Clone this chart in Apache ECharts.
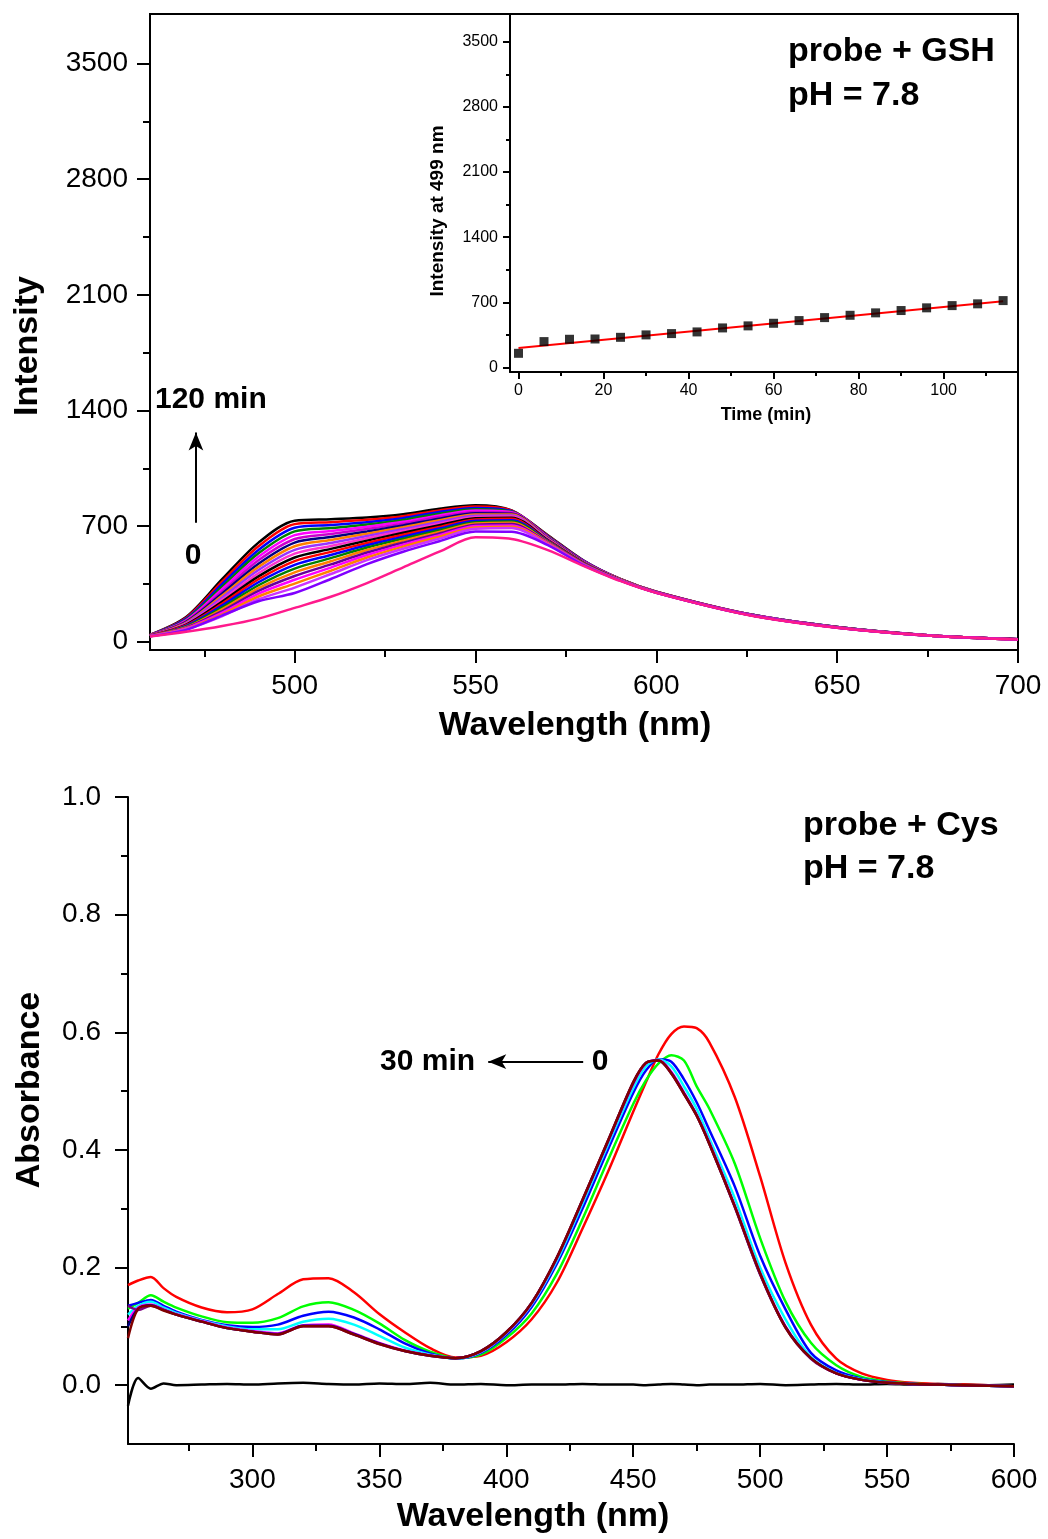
<!DOCTYPE html>
<html>
<head>
<meta charset="UTF-8">
<title>probe + GSH / probe + Cys</title>
<script src="https://cdn.jsdelivr.net/npm/echarts@6/dist/echarts.min.js"></script>
<style>
  html, body { margin: 0; padding: 0; background: #fff; }
  #chart { width: 1048px; height: 1539px; }
</style>
</head>
<body>
<div id="chart"></div>
<script>
// ---- fluorescence spectra (top panel), one curve per time point ----
const flWave = [460, 470, 480, 490, 500, 510, 520, 530, 540, 550, 560, 570, 580, 590, 600, 625, 650, 675, 700];
const flTimes = [120, 114, 108, 102, 96, 90, 84, 78, 72, 66, 60, 54, 48, 42, 36, 30, 24, 18, 12, 6, 0];
const flColors = ['#000000', '#ff0000', '#0000ff', '#008000', '#ff00ff', '#cc00cc', '#000080', '#ff8000', '#9933ff', '#ff33cc',
                  '#000000', '#ff0000', '#0000ff', '#008000', '#ff8000', '#660099', '#ff00ff', '#ff8000', '#cc33ff', '#8000ff', '#ff1a8c'];
const flIntensity = [
  [42, 150, 380, 600, 733, 742, 752, 772, 805, 826, 795, 645, 490, 380, 303, 170, 90, 40, 15],
  [41, 145, 365, 578, 712, 724, 738, 760, 795, 818, 793, 642, 489, 380, 303, 170, 89, 40, 15],
  [40, 140, 350, 556, 690, 706, 724, 748, 785, 810, 790, 639, 488, 379, 302, 169, 89, 40, 15],
  [40, 135, 335, 535, 668, 688, 710, 737, 775, 802, 787, 636, 486, 379, 302, 169, 89, 39, 15],
  [39, 130, 320, 514, 645, 670, 696, 726, 765, 794, 784, 633, 485, 378, 302, 169, 88, 39, 15],
  [39, 125, 305, 493, 622, 652, 682, 715, 755, 786, 780, 630, 483, 378, 301, 168, 88, 39, 15],
  [38, 120, 292, 472, 600, 634, 668, 704, 745, 778, 775, 627, 482, 377, 301, 168, 88, 39, 15],
  [38, 116, 280, 453, 578, 616, 654, 693, 735, 771, 770, 624, 480, 377, 301, 168, 88, 39, 15],
  [37, 112, 268, 434, 556, 598, 640, 682, 725, 763, 764, 621, 479, 376, 300, 168, 87, 39, 15],
  [37, 108, 255, 415, 533, 580, 626, 671, 715, 755, 758, 618, 477, 376, 300, 167, 87, 39, 15],
  [36, 104, 243, 396, 510, 562, 612, 660, 705, 748, 751, 615, 476, 375, 300, 167, 87, 38, 15],
  [36, 100, 231, 378, 488, 544, 598, 648, 695, 740, 744, 612, 474, 375, 299, 167, 87, 38, 14],
  [35, 96, 220, 360, 465, 525, 584, 636, 685, 732, 736, 609, 473, 374, 299, 167, 86, 38, 14],
  [35, 92, 208, 342, 443, 506, 570, 624, 675, 724, 728, 606, 471, 374, 299, 166, 86, 38, 14],
  [35, 88, 197, 325, 420, 487, 555, 612, 665, 716, 720, 603, 470, 373, 298, 166, 86, 38, 14],
  [34, 85, 186, 308, 398, 468, 540, 600, 655, 708, 712, 600, 468, 373, 298, 166, 86, 38, 14],
  [34, 82, 176, 291, 375, 449, 525, 588, 645, 700, 704, 597, 467, 372, 298, 166, 86, 38, 14],
  [34, 79, 166, 274, 352, 430, 510, 576, 635, 692, 696, 594, 465, 372, 297, 165, 85, 38, 14],
  [33, 76, 156, 257, 328, 410, 494, 563, 624, 684, 688, 590, 464, 371, 297, 165, 85, 38, 14],
  [33, 72, 160, 245, 295, 380, 470, 545, 608, 668, 666, 585, 462, 370, 297, 165, 85, 38, 14],
  [32, 60, 95, 140, 205, 272, 355, 450, 545, 632, 622, 555, 458, 368, 296, 164, 85, 38, 14]
];

// ---- inset: intensity at 499 nm vs time ----
const insetTime = [0, 6, 12, 18, 24, 30, 36, 42, 48, 54, 60, 66, 72, 78, 84, 90, 96, 102, 108, 114];
const insetIntensity = [151, 277, 302, 305, 323, 349, 363, 381, 424, 446, 474, 503, 535, 560, 586, 611, 640, 664, 683, 718];
const fitTime = [0, 114];
const fitIntensity = [209, 711];

// ---- absorbance spectra (bottom panel) ----
const absWave = [251, 255, 260, 265, 270, 280, 290, 300, 310, 320, 330, 340, 350, 360, 370, 380, 390, 400, 410, 420,
                 430, 440, 450, 455, 460, 465, 470, 475, 480, 490, 500, 510, 520, 530, 540, 550, 560, 570, 580, 590, 600];
const absNames = ['blank', '0 min', 'a', 'b', 'c', 'd', 'e', 'f', '30 min'];
const absColors = ['#000000', '#ff0000', '#00ff00', '#0000ff', '#00ffff', '#ff00ff', '#000080', '#800080', '#800000'];
const absValues = [
  [-0.035, 0.012, -0.006, 0.003, 0.000, 0.001, 0.002, 0.001, 0.003, 0.004, 0.002, 0.001, 0.003, 0.002, 0.004, 0.001, 0.002, 0.000, 0.001, 0.001,
   0.002, 0.001, 0.001, 0.000, 0.001, 0.002, 0.001, 0.000, 0.001, 0.001, 0.002, 0.000, 0.001, 0.002, 0.001, 0.002, 0.001, 0.002, 0.001, 0.000, 0.001],
  [0.170, 0.178, 0.184, 0.165, 0.150, 0.132, 0.124, 0.129, 0.155, 0.180, 0.182, 0.158, 0.121, 0.090, 0.063, 0.047, 0.050, 0.073, 0.112, 0.175,
   0.266, 0.362, 0.465, 0.515, 0.563, 0.597, 0.610, 0.607, 0.583, 0.490, 0.355, 0.208, 0.103, 0.045, 0.020, 0.009, 0.004, 0.002, 0.001, 0.000, -0.002],
  [0.130, 0.140, 0.153, 0.142, 0.132, 0.117, 0.107, 0.106, 0.114, 0.134, 0.141, 0.128, 0.105, 0.077, 0.057, 0.046, 0.052, 0.080, 0.122, 0.190,
   0.282, 0.382, 0.478, 0.518, 0.547, 0.561, 0.552, 0.508, 0.470, 0.377, 0.250, 0.142, 0.072, 0.034, 0.014, 0.006, 0.003, 0.001, 0.000, -0.001, -0.002],
  [0.135, 0.140, 0.145, 0.135, 0.125, 0.111, 0.102, 0.099, 0.103, 0.118, 0.125, 0.115, 0.095, 0.071, 0.054, 0.045, 0.055, 0.085, 0.133, 0.207,
   0.300, 0.400, 0.497, 0.535, 0.554, 0.550, 0.520, 0.481, 0.434, 0.338, 0.220, 0.129, 0.055, 0.025, 0.011, 0.005, 0.002, 0.001, 0.000, -0.001, -0.002],
  [0.120, 0.135, 0.142, 0.132, 0.123, 0.110, 0.100, 0.095, 0.095, 0.108, 0.113, 0.103, 0.084, 0.064, 0.052, 0.045, 0.056, 0.088, 0.137, 0.212,
   0.308, 0.408, 0.505, 0.542, 0.554, 0.542, 0.508, 0.470, 0.420, 0.318, 0.200, 0.112, 0.048, 0.021, 0.010, 0.004, 0.002, 0.001, 0.000, -0.001, -0.002],
  [0.110, 0.132, 0.137, 0.129, 0.121, 0.109, 0.098, 0.092, 0.088, 0.102, 0.103, 0.088, 0.072, 0.059, 0.051, 0.046, 0.057, 0.089, 0.139, 0.216,
   0.313, 0.413, 0.512, 0.547, 0.553, 0.533, 0.498, 0.460, 0.413, 0.306, 0.191, 0.100, 0.046, 0.020, 0.009, 0.004, 0.002, 0.001, 0.000, -0.001, -0.002],
  [0.100, 0.130, 0.136, 0.128, 0.120, 0.108, 0.097, 0.091, 0.087, 0.101, 0.101, 0.087, 0.071, 0.058, 0.050, 0.046, 0.058, 0.090, 0.140, 0.217,
   0.314, 0.414, 0.514, 0.548, 0.552, 0.531, 0.496, 0.459, 0.411, 0.304, 0.189, 0.099, 0.046, 0.020, 0.009, 0.004, 0.002, 0.001, 0.000, -0.001, -0.002],
  [0.135, 0.128, 0.135, 0.128, 0.120, 0.108, 0.097, 0.091, 0.086, 0.100, 0.100, 0.086, 0.070, 0.058, 0.050, 0.046, 0.058, 0.090, 0.140, 0.218,
   0.315, 0.415, 0.515, 0.548, 0.552, 0.530, 0.495, 0.458, 0.410, 0.303, 0.188, 0.098, 0.045, 0.020, 0.009, 0.004, 0.002, 0.001, 0.000, -0.001, -0.002],
  [0.080, 0.130, 0.135, 0.127, 0.120, 0.108, 0.097, 0.091, 0.086, 0.100, 0.100, 0.086, 0.070, 0.058, 0.050, 0.046, 0.058, 0.090, 0.140, 0.218,
   0.315, 0.415, 0.515, 0.548, 0.552, 0.530, 0.495, 0.458, 0.410, 0.304, 0.190, 0.098, 0.046, 0.020, 0.009, 0.004, 0.002, 0.001, 0.000, -0.001, -0.002]
];

// tick positions
const flXTicks = [500, 550, 600, 650, 700];
const flXMinor = [475, 525, 575, 625, 675];
const flYTicks = [0, 700, 1400, 2100, 2800, 3500];
const flYMinor = [350, 1050, 1750, 2450, 3150];
const insetXTicks = [0, 20, 40, 60, 80, 100];
const insetXMinor = [10, 30, 50, 70, 90, 110];
const absXTicks = [300, 350, 400, 450, 500, 550, 600];
const absXMinor = [275, 325, 375, 425, 475, 525, 575];
const absYTicks = [0, 0.2, 0.4, 0.6, 0.8, 1.0];
const absYMinor = [0.1, 0.3, 0.5, 0.7, 0.9];

const FONT = 'Liberation Sans, Arial, Helvetica, sans-serif';

// one axis; labels shown only when a size is given
function axis(grid, pos, min, max, ticks, tickLen, labelSize, margin, fmt) {
  return {
    type: 'value', gridIndex: grid, position: pos, offset: 0, min: min, max: max,
    axisLine: { show: labelSize > 0, onZero: false, lineStyle: { color: '#000', width: 2 } },
    axisTick: { show: true, customValues: ticks, length: tickLen, lineStyle: { color: '#000', width: 2 } },
    axisLabel: {
      show: labelSize > 0, customValues: ticks, margin: margin,
      color: '#000', fontSize: labelSize || 12, fontFamily: FONT,
      formatter: fmt || (v => String(v))
    },
    splitLine: { show: false }
  };
}

function text(str, x, y, size, align, rot) {
  return {
    type: 'text', x: x, y: y, rotation: rot || 0, silent: true,
    style: {
      text: str, fill: '#000', fontSize: size, fontWeight: 'bold', fontFamily: FONT,
      align: align, verticalAlign: 'middle', textAlign: align, textVerticalAlign: 'middle'
    }
  };
}

const series = [];

flIntensity.forEach((vals, i) => {
  const s = {
    name: flTimes[i] + ' min', type: 'line', xAxisIndex: 0, yAxisIndex: 0,
    data: flWave.map((w, j) => [w, vals[j]]),
    showSymbol: false, smooth: 0.3,
    lineStyle: { color: flColors[i], width: 2.5 }, itemStyle: { color: flColors[i] }
  };
  if (i === 0) {
    s.markLine = {
      silent: true, symbol: ['none', 'arrow'], symbolSize: [11, 18],
      label: { show: false }, lineStyle: { color: '#000', width: 2, type: 'solid' },
      data: [[{ coord: [472.7, 721] }, { coord: [472.7, 1266] }]]
    };
  }
  series.push(s);
});

series.push({
  name: 'fit', type: 'line', xAxisIndex: 2, yAxisIndex: 2,
  data: fitTime.map((t, j) => [t, fitIntensity[j]]),
  showSymbol: false, lineStyle: { color: '#ff0000', width: 2 }, z: 3
});
series.push({
  name: 'I499', type: 'scatter', xAxisIndex: 2, yAxisIndex: 2,
  data: insetTime.map((t, j) => [t, insetIntensity[j]]),
  symbol: 'rect', symbolSize: 9, itemStyle: { color: '#000' }, z: 4
});

absValues.forEach((vals, i) => {
  const s = {
    name: absNames[i], type: 'line', xAxisIndex: 4, yAxisIndex: 4,
    data: absWave.map((w, j) => [w, vals[j]]),
    showSymbol: false, smooth: 0.3,
    lineStyle: { color: absColors[i], width: 2.5 }, itemStyle: { color: absColors[i] }
  };
  if (i === 0) {
    s.markLine = {
      silent: true, symbol: ['none', 'arrow'], symbolSize: [11, 18],
      label: { show: false }, lineStyle: { color: '#000', width: 2, type: 'solid' },
      data: [[{ coord: [430.3, 0.55] }, { coord: [392.9, 0.55] }]]
    };
  }
  series.push(s);
});

const chart = echarts.init(document.getElementById('chart'), null, { renderer: 'canvas' });
chart.setOption({
  animation: false,
  backgroundColor: '#fff',
  grid: [
    { left: 150, top: 14, width: 868, height: 636, show: true, borderColor: '#000', borderWidth: 2, backgroundColor: 'transparent' },
    { left: 510, top: 14, width: 508, height: 358 },
    { left: 128, top: 797, width: 886, height: 647 }
  ],
  xAxis: [
    axis(0, 'bottom', 460, 700, flXTicks, 13, 28, 22),
    axis(0, 'bottom', 460, 700, flXMinor, 7, 0, 0),
    axis(1, 'bottom', -2, 117.5, insetXTicks, 7, 16, 11),
    axis(1, 'bottom', -2, 117.5, insetXMinor, 4, 0, 0),
    axis(2, 'bottom', 251, 600, absXTicks, 13, 28, 22),
    axis(2, 'bottom', 251, 600, absXMinor, 7, 0, 0)
  ],
  yAxis: [
    axis(0, 'left', -50, 3800, flYTicks, 13, 28, 22),
    axis(0, 'left', -50, 3800, flYMinor, 7, 0, 0),
    axis(1, 'left', -50, 3800, flYTicks, 7, 16, 12),
    axis(1, 'left', -50, 3800, flYMinor, 4, 0, 0),
    axis(2, 'left', -0.1, 1.0, absYTicks, 13, 28, 27, v => v.toFixed(1)),
    axis(2, 'left', -0.1, 1.0, absYMinor, 7, 0, 0)
  ],
  series: series,
  graphic: [
    text('Intensity', 28, 346, 34, 'center', Math.PI / 2),
    text('Wavelength (nm)', 575, 726, 34, 'center'),
    text('Intensity at 499 nm', 438, 211, 19, 'center', Math.PI / 2),
    text('Time (min)', 766, 415, 18, 'center'),
    text('probe + GSH', 788, 52, 34, 'left'),
    text('pH = 7.8', 788, 96, 34, 'left'),
    text('120 min', 155, 400, 30, 'left'),
    text('0', 193, 556, 30, 'center'),
    text('Absorbance', 30, 1090, 34, 'center', Math.PI / 2),
    text('Wavelength (nm)', 533, 1517, 34, 'center'),
    text('probe + Cys', 803, 826, 34, 'left'),
    text('pH = 7.8', 803, 869, 34, 'left'),
    text('30 min', 380, 1062, 30, 'left'),
    text('0', 600, 1062, 30, 'center')
  ]
});
window.addEventListener('resize', () => chart.resize());
</script>
</body>
</html>
